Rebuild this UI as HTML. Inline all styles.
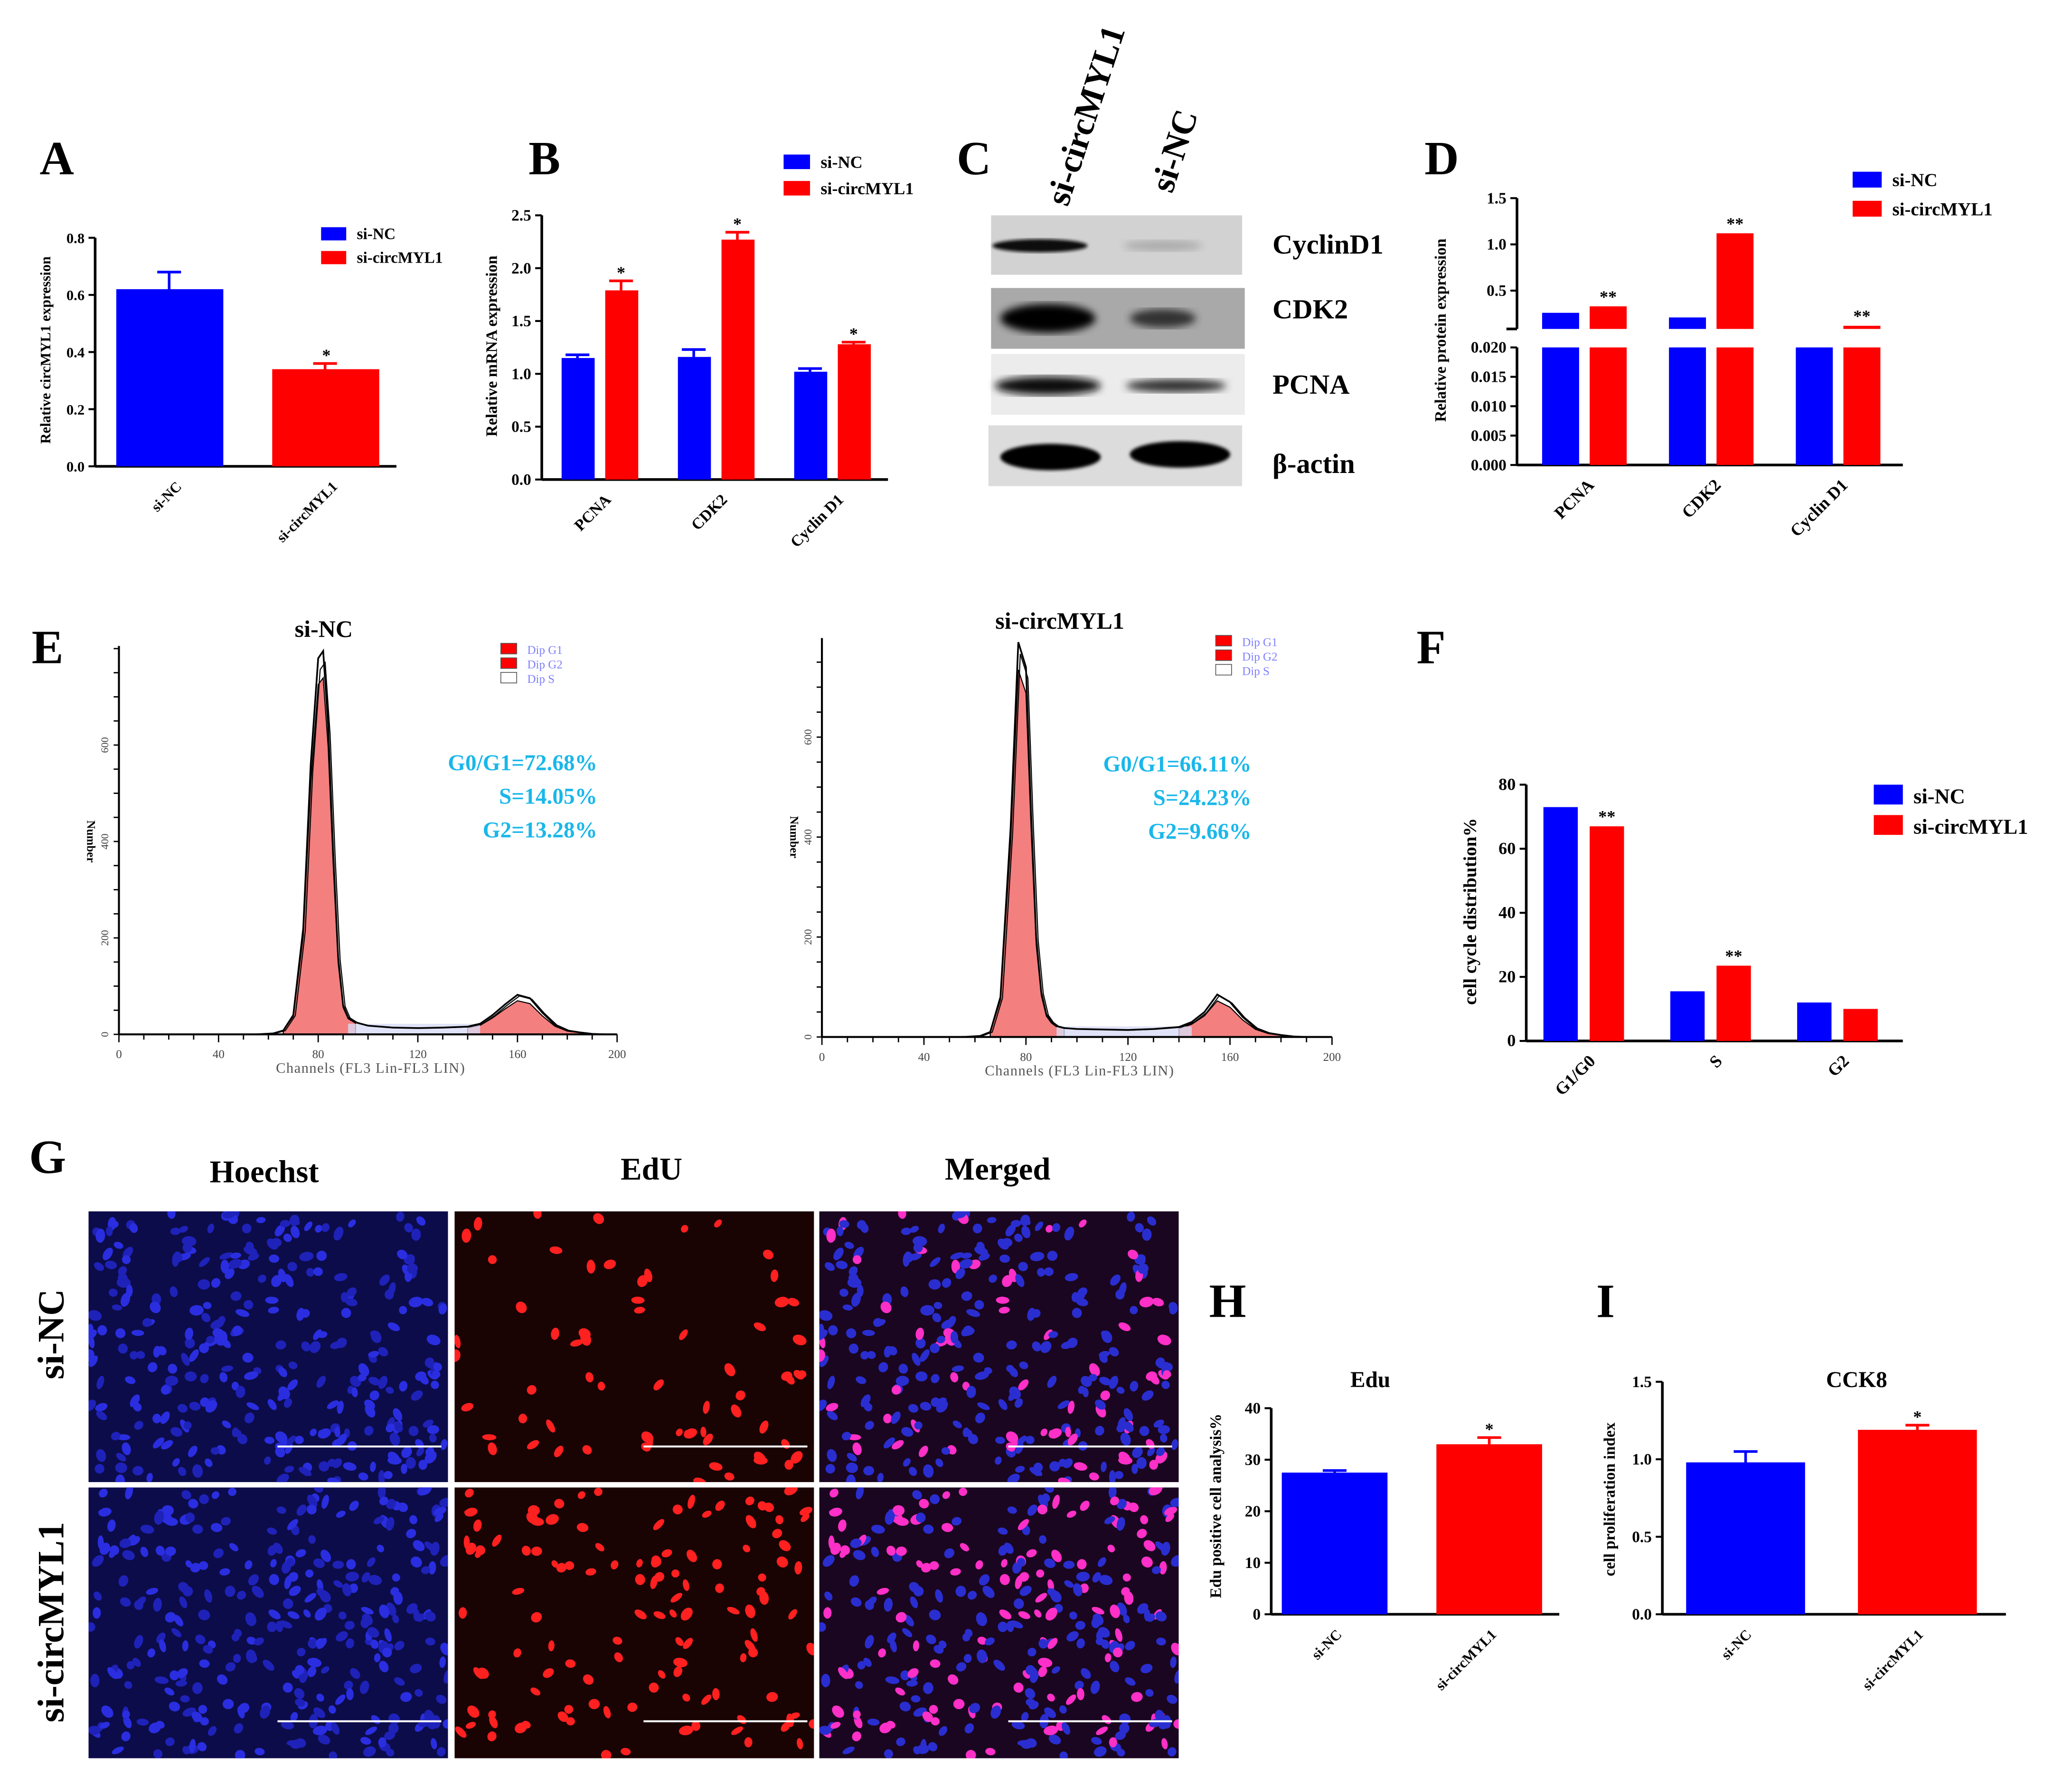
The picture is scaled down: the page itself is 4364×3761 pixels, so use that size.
<!DOCTYPE html>
<html><head><meta charset="utf-8"><style>
html,body{margin:0;padding:0;background:#fff}
svg{display:block}
text{font-family:"Liberation Serif",serif}
</style></head><body>
<svg id="fig" xmlns="http://www.w3.org/2000/svg" width="4364" height="3761" viewBox="0 0 1568 1352" preserveAspectRatio="none">
<rect width="1570" height="1355" fill="#fff"/>
<g font-family="Liberation Serif" font-weight="bold" font-size="36" fill="#000">
<text x="30" y="132">A</text>
<text x="400" y="132">B</text>
<text x="724" y="132">C</text>
<text x="1078" y="132">D</text>
<text x="24" y="502">E</text>
<text x="1072" y="502">F</text>
<text x="22" y="888">G</text>
<text x="915" y="997">H</text>
<text x="1208" y="997">I</text>
</g>
<g>
<defs>
<filter id="blur3"><feGaussianBlur stdDeviation="3"/></filter>
<filter id="blur1"><feGaussianBlur stdDeviation="1.2"/></filter>
</defs>
<text transform="translate(808,157) rotate(-72)" font-size="26" font-weight="bold">si-circMYL1</text>
<text transform="translate(887,147) rotate(-72)" font-size="26" font-weight="bold">si-NC</text>
<rect x="750" y="163" width="190" height="45" fill="#d2d2d2"/>
<ellipse cx="787" cy="186" rx="36" ry="5" fill="#111" filter="url(#blur1)"/>
<ellipse cx="880" cy="186" rx="30" ry="4" fill="#aaa" filter="url(#blur3)"/>
<rect x="750" y="218" width="192" height="46" fill="#a9a9a9"/>
<ellipse cx="793" cy="241" rx="36" ry="11" fill="#000" filter="url(#blur3)"/>
<ellipse cx="880" cy="241" rx="25" ry="7" fill="#333" filter="url(#blur3)"/>
<rect x="750" y="268" width="192" height="46" fill="#ececec"/>
<ellipse cx="793" cy="292" rx="40" ry="7" fill="#111" filter="url(#blur3)"/>
<ellipse cx="890" cy="292" rx="38" ry="5" fill="#333" filter="url(#blur3)"/>
<rect x="748" y="322" width="192" height="46" fill="#dcdcdc"/>
<ellipse cx="795" cy="346" rx="38" ry="10" fill="#000" filter="url(#blur1)"/>
<ellipse cx="893" cy="344" rx="38" ry="10" fill="#000" filter="url(#blur1)"/>
<g font-size="21" font-weight="bold">
<text x="963" y="192">CyclinD1</text>
<text x="963" y="241">CDK2</text>
<text x="963" y="298">PCNA</text>
<text x="963" y="358">β-actin</text>
</g>
</g>
<g font-size="24" font-weight="bold">
<text x="200" y="895" text-anchor="middle">Hoechst</text>
<text x="493" y="893" text-anchor="middle">EdU</text>
<text x="755" y="893" text-anchor="middle">Merged</text>
<text transform="translate(48,1010) rotate(-90)" text-anchor="middle" font-size="28">si-NC</text>
<text transform="translate(48,1228) rotate(-90)" text-anchor="middle" font-size="28">si-circMYL1</text>
</g>
<g id="micro"></g>
<g id="charts"></g>
</svg>
<script>
const aCategories = ["si-NC","si-circMYL1"];
const aValues = [0.62, 0.34];
const aErrors = [0.06, 0.02];
const aTicks = ["0.0","0.2","0.4","0.6","0.8"];

const bCategories = ["PCNA","CDK2","Cyclin D1"];
const bNC = [1.15, 1.16, 1.02];
const bNCErr = [0.03, 0.07, 0.03];
const bSi = [1.79, 2.27, 1.28];
const bSiErr = [0.09, 0.07, 0.02];
const bTicks = ["0.0","0.5","1.0","1.5","2.0","2.5"];

const dCategories = ["PCNA","CDK2","Cyclin D1"];
const dNC = [0.26, 0.21, 0.02];
const dSi = [0.33, 1.12, 0.12];
const dUpperTicks = ["0.5","1.0","1.5"];
const dLowerTicks = ["0.000","0.005","0.010","0.015","0.020"];

const fCategories = ["G1/G0","S","G2"];
const fNC = [73, 15.5, 12];
const fSi = [67, 23.5, 10];
const fTicks = ["0","20","40","60","80"];

const hCategories = ["si-NC","si-circMYL1"];
const hValues = [27.5, 33];
const hErrors = [0.4, 1.3];
const hTicks = ["0","10","20","30","40"];

const iCategories = ["si-NC","si-circMYL1"];
const iValues = [0.98, 1.19];
const iErrors = [0.07, 0.03];
const iTicks = ["0.0","0.5","1.0","1.5"];

const histChannels = [55,62,66,70,74,77,80,82,84,86,88,90,92,95,100,110,120,130,140,145,150,155,160,165,170,175,180,185,190,195];
const histLeft = [0,2,8,40,220,560,780,795,640,380,160,60,35,25,18,14,13,14,16,22,40,62,82,75,45,20,8,4,1,0];
const histRight = [0,2,10,80,420,790,740,450,200,90,45,30,22,18,16,15,14,16,20,30,50,85,70,40,18,8,4,1,0,0];
const hTicksX = ["0","40","80","120","160","200"];
const hTicksY = ["0","200","400","600"];

const NS = "http://www.w3.org/2000/svg";
const charts = document.getElementById("charts");
function mk(tag, attrs, parent, txt){
  const e = document.createElementNS(NS, tag);
  for (const k in attrs) e.setAttribute(k, attrs[k]);
  if (txt !== undefined) e.textContent = txt;
  (parent || charts).appendChild(e);
  return e;
}
const BLUE = "#0000ff", RED = "#ff0000";

function axisY(g, x, y0, y1, labels, fs){
  const ax = mk("line",{x1:x,y1:y0,x2:x,y2:y1,stroke:"#000","stroke-width":2},g);
  
  
  labels.forEach((l,i)=>{
    const y = y0 + (y1-y0)*i/(labels.length-1);
    mk("line",{x1:x-5,y1:y,x2:x,y2:y,stroke:"#000","stroke-width":1.5},g);
    const t = mk("text",{x:x-8,y:y+4,"text-anchor":"end","font-size":fs||12,"font-weight":"bold"},g,l);
    
    
  });
}
function bar(g, x, w, yTop, yBot, color, name){
  const r = mk("rect",{x:x,y:Math.min(yTop,yBot),width:w,height:Math.abs(yBot-yTop),fill:color},g);
  
  
  return r;
}
function errbar(g, cx, yv, ye, color){
  mk("line",{x1:cx,y1:yv,x2:cx,y2:ye,stroke:color,"stroke-width":2},g);
  mk("line",{x1:cx-9,y1:ye,x2:cx+9,y2:ye,stroke:color,"stroke-width":2},g);
}
function star(g, cx, y, s, fs){
  const t = mk("text",{x:cx,y:y,"text-anchor":"middle","font-size":fs||14,"font-weight":"bold"},g,s);
  
  
}
function xlab(g, x, y, s, fs){
  const t = mk("text",{transform:`translate(${x},${y}) rotate(-45)`,"text-anchor":"end","font-size":fs||12,"font-weight":"bold"},g,s);
  
  
}
function ytitle(g, x, y, s, fs){
  const t = mk("text",{transform:`translate(${x},${y}) rotate(-90)`,"text-anchor":"middle","font-size":fs||12,"font-weight":"bold"},g,s);
  
  
}
function legend(g, x, y, gap, sw, sh, fs){
  const r1 = mk("rect",{x:x,y:y,width:sw,height:sh,fill:BLUE},g);
  
  
  const t1 = mk("text",{x:x+sw+8,y:y+sh-1,"font-size":fs,"font-weight":"bold"},g,"si-NC");
  
  
  const r2 = mk("rect",{x:x,y:y+gap,width:sw,height:sh,fill:RED},g);
  
  
  const t2 = mk("text",{x:x+sw+8,y:y+gap+sh-1,"font-size":fs,"font-weight":"bold"},g,"si-circMYL1");
  
  
}
function grp(name){
  const g = mk("g",{});
  
  
  return g;
}

(function(){
  const g = grp("chart-a");
  const y0=353, y1=180, max=0.8, sy=v=>y0-(y0-y1)*v/max;
  axisY(g,72,y0,y1,aTicks,11);
  mk("line",{x1:72,y1:y0,x2:300,y2:y0,stroke:"#000","stroke-width":2},g);
  const xs=[88,206], cols=[BLUE,RED];
  aValues.forEach((v,i)=>{
    errbar(g,xs[i]+40,sy(v),sy(v+aErrors[i]),cols[i]);
    bar(g,xs[i],81,sy(v),y0,cols[i],"bar-"+aCategories[i].toLowerCase());
    xlab(g,xs[i]+50,y0+16,aCategories[i],11);
  });
  star(g,247,sy(aValues[1]+aErrors[1])-2,"*",13);
  ytitle(g,38,265,"Relative circMYL1 expression",11);
  legend(g,243,172,18,19,10,12);
})();

(function(){
  const g = grp("chart-b");
  const y0=363, y1=163, max=2.5, sy=v=>y0-(y0-y1)*v/max;
  axisY(g,410,y0,y1,bTicks,12);
  mk("line",{x1:410,y1:y0,x2:672,y2:y0,stroke:"#000","stroke-width":2},g);
  bCategories.forEach((c,i)=>{
    const bx = 425 + i*88;
    errbar(g,bx+12,sy(bNC[i]),sy(bNC[i]+bNCErr[i]),BLUE);
    bar(g,bx,25,sy(bNC[i]),y0,BLUE,"bar-si-nc-"+c);
    errbar(g,bx+45,sy(bSi[i]),sy(bSi[i]+bSiErr[i]),RED);
    bar(g,bx+33,25,sy(bSi[i]),y0,RED,"bar-si-circmyl1-"+c);
    star(g,bx+45,sy(bSi[i]+bSiErr[i])-2,"*",13);
    xlab(g,bx+38,y0+16,c,12);
  });
  ytitle(g,376,262,"Relative mRNA expression",12);
  legend(g,593,117,20,20,11,13);
})();

(function(){
  const g = grp("chart-d");
  const ax=1148, y0=352, yL=263, uBot=249, uTop=150;
  const syL=v=>y0-(y0-yL)*v/0.02;
  const syU=v=>220-(v-0.5)*70;
  mk("line",{x1:ax,y1:y0,x2:ax,y2:yL,stroke:"#000","stroke-width":2},g);
  mk("line",{x1:ax,y1:uBot,x2:ax,y2:uTop,stroke:"#000","stroke-width":2},g);
  mk("line",{x1:ax-8,y1:uBot,x2:ax,y2:uBot,stroke:"#000","stroke-width":2},g);
  dLowerTicks.forEach((l,i)=>{
    const y=syL(i*0.005);
    mk("line",{x1:ax-5,y1:y,x2:ax,y2:y,stroke:"#000","stroke-width":1.5},g);
    const t=mk("text",{x:ax-8,y:y+4,"text-anchor":"end","font-size":12,"font-weight":"bold"},g,l);
    
    
  });
  dUpperTicks.forEach((l,i)=>{
    const y=syU(0.5+i*0.5);
    mk("line",{x1:ax-5,y1:y,x2:ax,y2:y,stroke:"#000","stroke-width":1.5},g);
    const t=mk("text",{x:ax-8,y:y+4,"text-anchor":"end","font-size":12,"font-weight":"bold"},g,l);
    
    
  });
  mk("line",{x1:ax,y1:y0,x2:1440,y2:y0,stroke:"#000","stroke-width":2},g);
  const drawD=(x,v,col,name)=>{
    bar(g,x,28,Math.max(yL,syL(Math.min(v,0.02))),y0,col,name+"-lower");
    if (v>0.02) bar(g,x,28,syU(v),uBot,col,name+"-upper");
  };
  dCategories.forEach((c,i)=>{
    const bx=1167+i*96;
    drawD(bx,dNC[i],BLUE,"bar-si-nc-"+c);
    drawD(bx+36,dSi[i],RED,"bar-si-circmyl1-"+c);
    star(g,bx+50,Math.min(syU(dSi[i]),yL)-3,"**",13);
    xlab(g,bx+40,y0+16,c,13);
  });
  ytitle(g,1094,250,"Relative protein expression",12);
  legend(g,1402,130,22,22,12,14);
})();

function histogram(name, ax, ay, xEnd, yTop600, counts, title, titleX, titleY, stats, statX, statY){
  const g = grp(name);
  const sx=c=>ax+(xEnd-ax)*c/200, sy=v=>ay-(ay-yTop600)*v/600;
  const fillPts=(lo,hi,scale)=>{
    let p=`M${sx(lo)},${ay}`;
    histChannels.forEach((c,i)=>{ if(c>=lo&&c<=hi) p+=` L${sx(c)},${sy(counts[i]*scale)}`; });
    return p+` L${sx(hi)},${ay} Z`;
  };
  const f1=mk("path",{d:fillPts(66,95,0.93),fill:"#f47f7f",stroke:"#000","stroke-width":0.8},g);
  
  
  const f2=mk("path",{d:fillPts(140,185,0.85),fill:"#f47f7f",stroke:"#000","stroke-width":0.8},g);
  
  
  const sfill=mk("rect",{x:sx(92),y:ay-8,width:sx(145)-sx(92),height:8,fill:"#d8dcf5",opacity:0.8},g);
  
  
  let d="";
  histChannels.forEach((c,i)=>{ d+=(i?" L":"M")+sx(c)+","+sy(counts[i]); });
  const ln=mk("path",{d:d,fill:"none",stroke:"#000","stroke-width":1.3},g);
  
  
  let d2="";
  histChannels.forEach((c,i)=>{ d2+=(i?" L":"M")+(sx(c)+1.5)+","+sy(counts[i]*0.97); });
  mk("path",{d:d2,fill:"none",stroke:"#000","stroke-width":0.8},g);
  mk("line",{x1:ax,y1:ay,x2:xEnd,y2:ay,stroke:"#000","stroke-width":1.5},g);
  mk("line",{x1:ax,y1:ay,x2:ax,y2:yTop600-75,stroke:"#000","stroke-width":1.5},g);
  for(let c=0;c<=200;c+=10){ mk("line",{x1:sx(c),y1:ay,x2:sx(c),y2:ay+(c%40?4:6),stroke:"#000","stroke-width":1},g); }
  for(let v=0;v<=800;v+=50){ if(sy(v)>=yTop600-75) mk("line",{x1:ax-4,y1:sy(v),x2:ax,y2:sy(v),stroke:"#000","stroke-width":1},g); }
  hTicksX.forEach((l,i)=>{
    const t=mk("text",{x:sx(i*40),y:ay+18,"text-anchor":"middle","font-size":9,"font-family":"Liberation Sans",fill:"#444"},g,l);
    
    
  });
  hTicksY.forEach((l,i)=>{
    const t=mk("text",{transform:`translate(${ax-8},${sy(i*200)}) rotate(-90)`,"text-anchor":"middle","font-size":8,"font-family":"Liberation Sans",fill:"#444"},g,l);
    
    
  });
  const xt=mk("text",{x:(ax+xEnd)/2+2,y:ay+29,"text-anchor":"middle","font-size":11,"font-family":"Liberation Sans",fill:"#555","letter-spacing":"0.5"},g,"Channels (FL3 Lin-FL3 LIN)");
  
  
  const yt=mk("text",{transform:`translate(${ax-24},${sy(400)}) rotate(90)`,"text-anchor":"middle","font-size":9,"font-weight":"bold"},g,"Number");
  
  
  const tt=mk("text",{x:titleX,y:titleY,"text-anchor":"middle","font-size":18,"font-weight":"bold"},g,title);
  
  
  const lx=xEnd-88, ly=yTop600-77;
  [["Dip G1",RED],["Dip G2",RED],["Dip S","#fff"]].forEach((e,i)=>{
    const r=mk("rect",{x:lx,y:ly+i*11,width:12,height:8,fill:e[1],stroke:"#555","stroke-width":0.6},g);
    
    
    const t=mk("text",{x:lx+20,y:ly+i*11+8,"font-size":9,"font-family":"Liberation Sans",fill:"#8080ff"},g,e[0]);
    
    
  });
  stats.forEach((s,i)=>{
    const t=mk("text",{x:statX,y:statY+i*25.5,"text-anchor":"end","font-size":17,"font-weight":"bold","font-family":"Liberation Sans",fill:"#1ab7ea"},g,s);
    
    
  });
}
histogram("histogram-si-nc",90,783,467,564,histLeft,"si-NC",245,482,["G0/G1=72.68%","S=14.05%","G2=13.28%"],452,583);
histogram("histogram-si-circmyl1",622,785,1008,558,histRight,"si-circMYL1",802,476,["G0/G1=66.11%","S=24.23%","G2=9.66%"],947,584);

(function(){
  const g = grp("chart-f");
  const y0=788, y1=594, max=80, sy=v=>y0-(y0-y1)*v/max;
  axisY(g,1155,y0,y1,fTicks,13);
  mk("line",{x1:1155,y1:y0,x2:1440,y2:y0,stroke:"#000","stroke-width":2},g);
  fCategories.forEach((c,i)=>{
    const bx=1168+i*96;
    bar(g,bx,26,sy(fNC[i]),y0,BLUE,"bar-si-nc-"+c);
    bar(g,bx+35,26,sy(fSi[i]),y0,RED,"bar-si-circmyl1-"+c);
    if(i<2) star(g,bx+48,sy(fSi[i])-3,"**",13);
    xlab(g,bx+40,y0+16,c,13);
  });
  ytitle(g,1117,690,"cell cycle distribution%",14);
  legend(g,1418,594,23,22,15,16);
})();

(function(){
  const g = grp("chart-h");
  const y0=1222, y1=1066, max=40, sy=v=>y0-(y0-y1)*v/max;
  axisY(g,962,y0,y1,hTicks,12);
  mk("line",{x1:962,y1:y0,x2:1180,y2:y0,stroke:"#000","stroke-width":2},g);
  const xs=[970,1087], cols=[BLUE,RED];
  hValues.forEach((v,i)=>{
    errbar(g,xs[i]+40,sy(v),sy(v+hErrors[i]),cols[i]);
    bar(g,xs[i],80,sy(v),y0,cols[i],"bar-"+hCategories[i].toLowerCase());
    xlab(g,xs[i]+46,y0+16,hCategories[i],11);
  });
  star(g,1127,sy(hValues[1]+hErrors[1])-2,"*",13);
  const t=mk("text",{x:1037,y:1050,"text-anchor":"middle","font-size":17,"font-weight":"bold"},g,"Edu");
  
  
  ytitle(g,924,1140,"Edu positive cell analysis%",12);
})();

(function(){
  const g = grp("chart-i");
  const y0=1222, y1=1046, max=1.5, sy=v=>y0-(y0-y1)*v/max;
  axisY(g,1258,y0,y1,iTicks,12);
  mk("line",{x1:1258,y1:y0,x2:1518,y2:y0,stroke:"#000","stroke-width":2},g);
  const xs=[1276,1406], cols=[BLUE,RED];
  iValues.forEach((v,i)=>{
    errbar(g,xs[i]+45,sy(v),sy(v+iErrors[i]),cols[i]);
    bar(g,xs[i],90,sy(v),y0,cols[i],"bar-"+iCategories[i].toLowerCase());
    xlab(g,xs[i]+50,y0+16,iCategories[i],11);
  });
  star(g,1451,sy(iValues[1]+iErrors[1])-2,"*",13);
  const t=mk("text",{x:1405,y:1050,"text-anchor":"middle","font-size":17,"font-weight":"bold"},g,"CCK8");
  
  
  ytitle(g,1222,1135,"cell proliferation index",12);
})();

(function(){
  const micro=document.getElementById("micro");
  let seed=12345;
  const rnd=()=>{ seed=(seed*16807)%2147483647; return seed/2147483647; };
  const cols=[67,344,620], rows=[917,1126], W=272, H=205;
  const bgs=["#0c0c4a","#1a0303","#1a0620"];
  const defs=document.createElementNS(NS,"defs");
  micro.appendChild(defs);
  rows.forEach((ry,ri)=>{
    const nuclei=[];
    for(let k=0;k<300;k++) nuclei.push([rnd()*W,rnd()*H,3+rnd()*2.5,2.2+rnd()*1.8,rnd()*180,rnd()]);
    const redFrac = ri===0?0.2:0.42;
    cols.forEach((cx,ci)=>{
      const cid="clip"+ri+"_"+ci;
      const cp=mk("clipPath",{id:cid},defs);
      mk("rect",{x:cx,y:ry,width:W,height:H},cp);
      const g=document.createElementNS(NS,"g");
      g.setAttribute("clip-path","url(#"+cid+")");
      const nm='micrograph-'+["hoechst","edu","merged"][ci]+'-'+(ri?"si-circmyl1":"si-nc");
      
      
      micro.appendChild(g);
      mk("rect",{x:cx,y:ry,width:W,height:H,fill:bgs[ci]},g);
      nuclei.forEach(n=>{
        const isRed=n[5]<redFrac;
        let fill=null;
        if(ci===0) fill=n[5]<0.5?"#2a2ee0":"#1f22b8";
        else if(ci===1){ if(isRed) fill="#ff2020"; }
        else fill=isRed?"#ff30c8":"#2a2ed0";
        if(fill) mk("ellipse",{cx:cx+n[0],cy:ry+n[1],rx:n[2],ry:n[3],fill:fill,transform:`rotate(${n[4]} ${cx+n[0]} ${ry+n[1]})`},g);
      });
      mk("line",{x1:cx+143,y1:ry+(ri?177:178),x2:cx+267,y2:ry+(ri?177:178),stroke:"#fff","stroke-width":1.5},g);
    });
  });
})();
</script>
</body></html>
